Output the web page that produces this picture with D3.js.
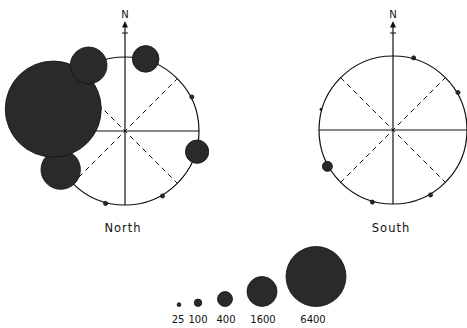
<!DOCTYPE html>
<html><head><meta charset="utf-8">
<script src="https://cdn.jsdelivr.net/npm/d3@7"></script>
<style>html,body{margin:0;padding:0;background:#fff;}svg{display:block;}</style>
</head><body>
<script>
// ---- data ----
const sites = ["North", "South"];
const northBearings = [16, 63, 106, 150, 195, 239, 287, 331];
const northValues   = [1260, 30, 970, 30, 30, 2760, 16400, 2400];
const southBearings = [16, 60, 150, 196, 241, 286];
const southValues   = [30, 30, 30, 30, 180, 8];
const legendValues  = [25, 100, 400, 1600, 6400];
const legendLabels  = ["25", "100", "400", "1600", "6400"];

const W = 467, H = 328;
const svg = d3.select("body").append("svg").attr("width", W).attr("height", H);

const R = 74;
const rScale = d3.scaleSqrt().domain([0, 6400]).range([0, 30]);
const ang = d3.scaleLinear().domain([0, 360]).range([0, 2 * Math.PI]);
const centers = {North: [125, 131], South: [393, 130]};
const siteData = {
  North: northBearings.map((b, i) => ({b, v: northValues[i]})),
  South: southBearings.map((b, i) => ({b, v: southValues[i]}))
};

sites.forEach(site => {
  const [cx, cy] = centers[site];
  const g = svg.append("g").attr("transform", `translate(${cx},${cy})`);
  g.append("circle").attr("r", R).attr("fill", "none").attr("stroke", "#111").attr("stroke-width", 1.2);
  // solid cross
  g.append("line").attr("x1", -R).attr("x2", R).attr("y1", 0).attr("y2", 0).attr("stroke", "#111").attr("stroke-width", 1.2);
  g.append("line").attr("x1", 0).attr("x2", 0).attr("y1", 27 - cy).attr("y2", R).attr("stroke", "#111").attr("stroke-width", 1.2);
  // dashed diagonals
  [45, 135].forEach(a => {
    const dx = R * Math.sin(ang(a)), dy = -R * Math.cos(ang(a));
    g.append("line").attr("x1", -dx).attr("y1", -dy).attr("x2", dx).attr("y2", dy)
      .attr("stroke", "#111").attr("stroke-width", 1).attr("stroke-dasharray", "5,4");
  });
  // north arrow
  g.append("path").attr("d", `M0,${21 - cy}L3,${27.5 - cy}L-3,${27.5 - cy}Z`).attr("fill", "#111");
  g.append("line").attr("x1", -3).attr("x2", 3).attr("y1", 33 - cy).attr("y2", 33 - cy).attr("stroke", "#111").attr("stroke-width", 1);
  g.append("text").attr("x", 0).attr("y", 18 - cy).attr("text-anchor", "middle")
    .attr("font-family", "DejaVu Sans, sans-serif").attr("font-size", 10).attr("fill", "#111").text("N");
  // bubbles
  g.selectAll("circle.b").data(siteData[site]).enter().append("circle").attr("class", "b")
    .attr("cx", d => (R + 1) * Math.sin(ang(d.b)))
    .attr("cy", d => -(R + 1) * Math.cos(ang(d.b)))
    .attr("r", d => rScale(d.v))
    .attr("fill", "#2a2a2a").attr("stroke", "#111").attr("stroke-width", 0.8);
  // label
  g.append("text").attr("x", -2).attr("y", 232 - cy).attr("text-anchor", "middle")
    .attr("font-family", "DejaVu Sans, sans-serif").attr("font-size", 11.5).attr("letter-spacing", 1)
    .attr("fill", "#111").text(site);
});

// legend
const legXs = [179, 198, 225, 262, 316];
const lg = svg.append("g");
lg.selectAll("circle").data(legendValues).enter().append("circle")
  .attr("cx", (d, i) => legXs[i])
  .attr("cy", d => 306.5 - rScale(d))
  .attr("r", d => rScale(d))
  .attr("fill", "#2a2a2a").attr("stroke", "#111").attr("stroke-width", 0.8);
const labXs = [178, 198, 226, 263, 313];
lg.selectAll("text").data(legendLabels).enter().append("text")
  .attr("x", (d, i) => labXs[i]).attr("y", 323).attr("text-anchor", "middle")
  .attr("font-family", "DejaVu Sans, sans-serif").attr("font-size", 10).attr("fill", "#111").text(d => d);
</script>
</body></html>
